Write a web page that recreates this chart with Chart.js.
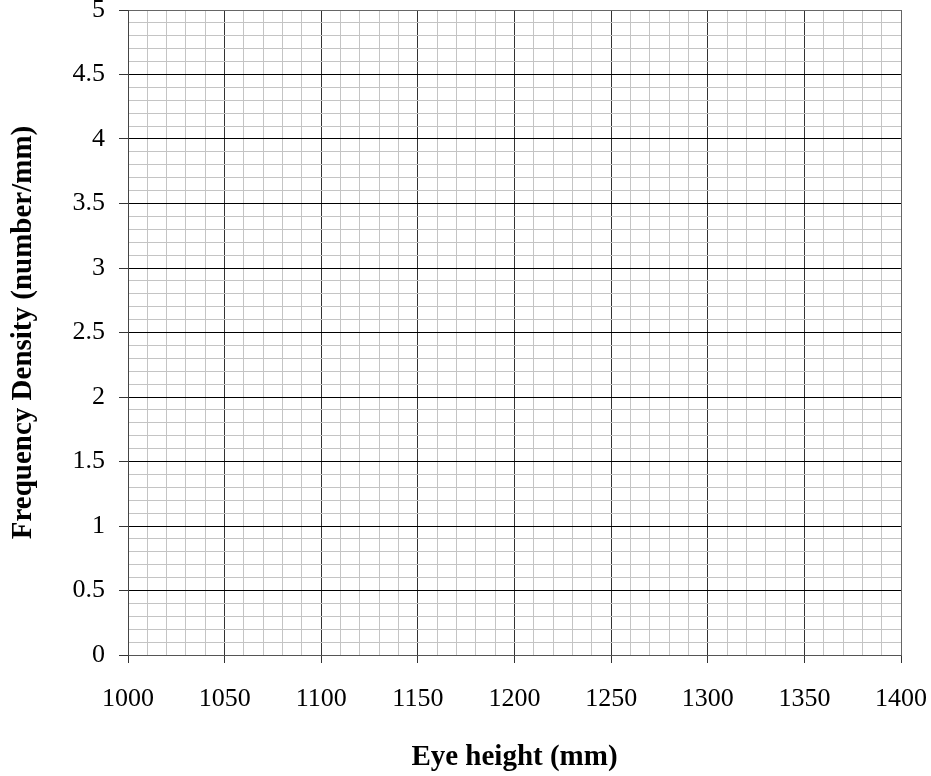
<!DOCTYPE html>
<html>
<head>
<meta charset="utf-8">
<script src="https://cdn.jsdelivr.net/npm/chart.js@4/dist/chart.umd.min.js"></script>
<style>
  html, body { margin: 0; padding: 0; background: #fff; }
  #wrap { width: 931px; height: 776px; }
</style>
</head>
<body>
<div id="wrap"><canvas id="chart"></canvas></div>
<script>
// blank histogram grid: Eye height vs frequency density
const xMajorTicks = [1000, 1050, 1100, 1150, 1200, 1250, 1300, 1350, 1400];
const yMajorTicks = [0, 0.5, 1, 1.5, 2, 2.5, 3, 3.5, 4, 4.5, 5];
const xMinorStep = 10;
const yMinorStep = 0.1;
const xTitle = "Eye height (mm)";
const yTitle = "Frequency Density (number/mm)";

const isMajor = (list, v) => list.some(m => Math.abs(m - v) < 1e-6);
const serif = "'Liberation Serif', 'Times New Roman', serif";

new Chart(document.getElementById("chart"), {
  type: "scatter",
  data: { datasets: [{ data: [], showLine: false }] },
  options: {
    responsive: true,
    maintainAspectRatio: false,
    animation: false,
    layout: { padding: { top: 10, right: 30, left: 0, bottom: 0 } },
    plugins: { legend: { display: false }, tooltip: { enabled: false } },
    scales: {
      x: {
        type: "linear",
        min: xMajorTicks[0],
        max: xMajorTicks[xMajorTicks.length - 1],
        afterFit: s => { s.height = 121; s.paddingLeft = 0; s.paddingRight = 0; },
        border: { color: "#555", width: 1 },
        grid: {
          tickLength: 8,
          color: c => {
            const v = c.tick.value;
            if (v === xMajorTicks[xMajorTicks.length - 1]) return "#666";
            return isMajor(xMajorTicks, v) ? "#333" : "#c4c4c4";
          },
          tickColor: c => isMajor(xMajorTicks, c.tick.value) ? "#333" : "rgba(0,0,0,0)"
        },
        ticks: {
          stepSize: xMinorStep,
          autoSkip: false,
          maxRotation: 0,
          padding: 21,
          color: "#000",
          font: { family: serif, size: 26 },
          callback: v => isMajor(xMajorTicks, v) ? String(Math.round(v)) : ""
        },
        title: {
          display: true,
          text: xTitle,
          color: "#000",
          font: { family: serif, size: 29, weight: "bold" },
          padding: { top: 0, bottom: 1 }
        }
      },
      y: {
        type: "linear",
        min: 0,
        max: 5,
        afterFit: s => { s.width = 128; s.paddingTop = 0; s.paddingBottom = 0; },
        border: { color: "#444", width: 1 },
        grid: {
          tickLength: 9,
          color: c => {
            const v = c.tick.value;
            if (Math.abs(v - 5) < 1e-6) return "#666";
            return isMajor(yMajorTicks, v) ? "#000" : "#c4c4c4";
          },
          tickColor: c => isMajor(yMajorTicks, c.tick.value) ? "#333" : "rgba(0,0,0,0)"
        },
        ticks: {
          stepSize: yMinorStep,
          autoSkip: false,
          padding: 14,
          color: "#000",
          font: { family: serif, size: 26 },
          callback: v => isMajor(yMajorTicks, v) ? String(Math.round(v * 2) / 2) : ""
        },
        title: {
          display: true,
          text: yTitle,
          color: "#000",
          font: { family: serif, size: 29, weight: "bold" },
          padding: { top: 6, bottom: 0 }
        }
      }
    }
  }
});
</script>
</body>
</html>
